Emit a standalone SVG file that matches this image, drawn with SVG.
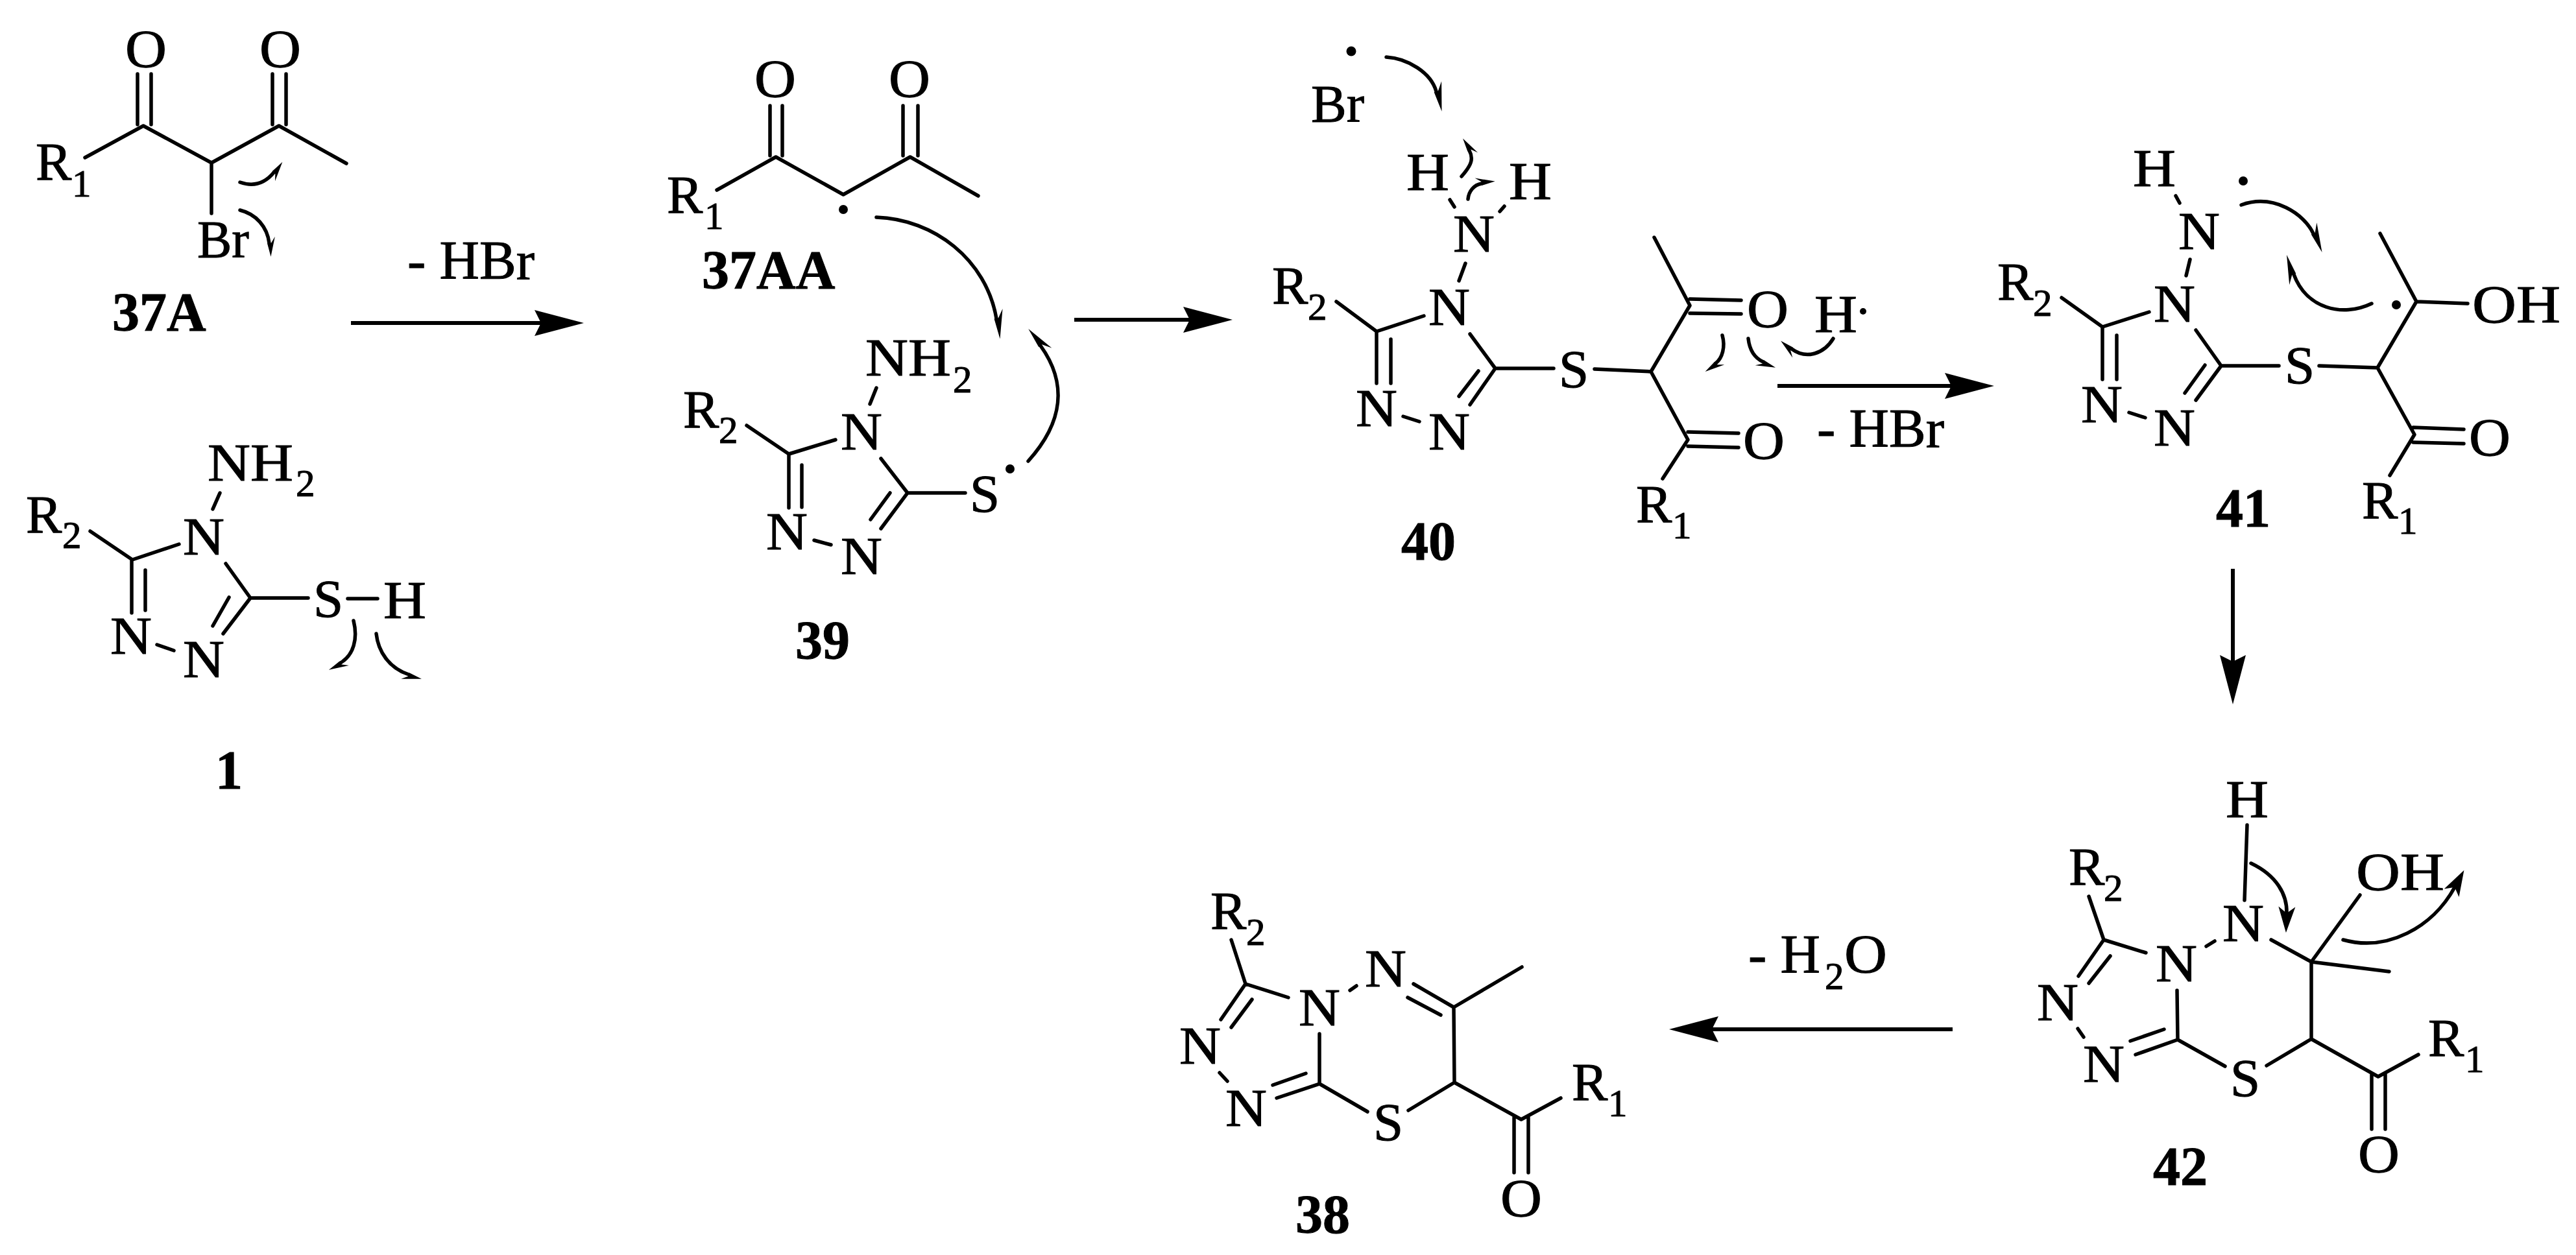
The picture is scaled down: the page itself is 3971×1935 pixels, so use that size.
<svg xmlns="http://www.w3.org/2000/svg" width="3971" height="1935" viewBox="0 0 3971 1935">
<style>
text{font-family:"Liberation Serif","Times New Roman",serif;fill:#000;stroke:#000;stroke-width:1}
.a{font-size:83px}
.s{font-size:59px}
.l{font-size:84px;font-weight:bold}
.b{fill:none;stroke:#000;stroke-width:5.5;stroke-linecap:round;stroke-linejoin:round}
.c{fill:none;stroke:#000;stroke-width:5.5;stroke-linecap:round}
.r{fill:none;stroke:#000;stroke-width:6}
.d{fill:#000}
</style>
<defs>
<marker id="head" markerUnits="userSpaceOnUse" markerWidth="80" markerHeight="44" viewBox="0 -22 80 44" refX="12" refY="0" orient="auto"><path d="M0 -20L76 0L0 20L10 0Z"/></marker>
<marker id="hookL" markerUnits="userSpaceOnUse" markerWidth="50" markerHeight="28" viewBox="-46 -14 50 28" refX="-32" refY="0" orient="auto"><path d="M0 0L-45 -12L-32 -3L-32 3.5Z"/></marker>
<marker id="hookR" markerUnits="userSpaceOnUse" markerWidth="50" markerHeight="28" viewBox="-46 -14 50 28" refX="-32" refY="0" orient="auto"><path d="M0 0L-45 12L-32 3L-32 -3.5Z"/></marker>
<marker id="hookLs" markerUnits="userSpaceOnUse" markerWidth="36" markerHeight="24" viewBox="-32 -12 36 24" refX="-21" refY="0" orient="auto"><path d="M0 0L-30 -10L-21 -3L-21 3Z"/></marker>
<marker id="hookRs" markerUnits="userSpaceOnUse" markerWidth="36" markerHeight="24" viewBox="-32 -12 36 24" refX="-21" refY="0" orient="auto"><path d="M0 0L-30 10L-21 3L-21 -3Z"/></marker>
<marker id="curl" markerUnits="userSpaceOnUse" markerWidth="46" markerHeight="32" viewBox="-42 -16 46 32" refX="-30" refY="0" orient="auto"><path d="M0 0L-40 -13L-30 0L-40 13Z"/></marker>
</defs>
<rect width="3971" height="1935" fill="#fff"/>

<g id="n37A">
<path class="b" d="M131 243L221 194L326 251L430 194L534 252M326 251V329M212 114V192M233 114V192M420 114V192M441 114V192"/>
<text class="a" x="193" y="103" textLength="64" lengthAdjust="spacingAndGlyphs">O</text>
<text class="a" x="400" y="103" textLength="64" lengthAdjust="spacingAndGlyphs">O</text>
<text class="a" x="55" y="277">R<tspan class="s" x="111" y="303">1</tspan></text>
<text class="a" x="304" y="397" textLength="80" lengthAdjust="spacingAndGlyphs">Br</text>
<text class="l" x="173" y="510">37A</text>
</g>

<g id="n1">
<path class="b" d="M139 819L204 863L276 839M203 863V945M224 879V941M339 760L328 785M242 994L268 1003M348 869L386 922L344 977M353 921L328 965M386 922H475M536 923H582"/>
<text class="a" x="320" y="741"><tspan textLength="132" lengthAdjust="spacingAndGlyphs">NH</tspan><tspan class="s" x="456" y="765">2</tspan></text>
<text class="a" x="282" y="855" textLength="64" lengthAdjust="spacingAndGlyphs">N</text>
<text class="a" x="40" y="821">R<tspan class="s" x="96" y="845">2</tspan></text>
<text class="a" x="170" y="1008" textLength="64" lengthAdjust="spacingAndGlyphs">N</text>
<text class="a" x="282" y="1044" textLength="64" lengthAdjust="spacingAndGlyphs">N</text>
<text class="a" x="483" y="951">S</text>
<text class="a" x="591" y="953" textLength="66" lengthAdjust="spacingAndGlyphs">H</text>
<text class="l" x="332" y="1216">1</text>
</g>

<g id="n37AA">
<path class="b" d="M1105 293L1196 242L1300 300L1403 242L1508 302M1187 163V240M1206 163V240M1392 163V240M1415 163V240"/>
<text class="a" x="1163" y="149" textLength="64" lengthAdjust="spacingAndGlyphs">O</text>
<text class="a" x="1370" y="149" textLength="64" lengthAdjust="spacingAndGlyphs">O</text>
<text class="a" x="1028" y="328">R<tspan class="s" x="1086" y="353">1</tspan></text>
<circle class="d" cx="1300" cy="323" r="7"/>
<text class="l" x="1082" y="445">37AA</text>
</g>

<g id="n39">
<path class="b" d="M1151 656L1216 700L1288 678M1216 700V783M1236 717V782M1351 598L1341 623M1255 833L1281 840M1358 707L1399 760L1358 815M1372 760L1342 801M1399 760H1488"/>
<text class="a" x="1334" y="579"><tspan textLength="132" lengthAdjust="spacingAndGlyphs">NH</tspan><tspan class="s" x="1469" y="605">2</tspan></text>
<text class="a" x="1053" y="659">R<tspan class="s" x="1108" y="683">2</tspan></text>
<text class="a" x="1296" y="693" textLength="64" lengthAdjust="spacingAndGlyphs">N</text>
<text class="a" x="1181" y="847" textLength="64" lengthAdjust="spacingAndGlyphs">N</text>
<text class="a" x="1296" y="885" textLength="64" lengthAdjust="spacingAndGlyphs">N</text>
<text class="a" x="1495" y="789">S</text>
<circle class="d" cx="1557" cy="723" r="7"/>
<text class="l" x="1226" y="1016">39</text>
</g>

<g id="nBr">
<text class="a" x="2021" y="188" textLength="82" lengthAdjust="spacingAndGlyphs">Br</text>
<circle class="d" cx="2083" cy="79" r="7.5"/>
</g>

<g id="n40">
<path class="b" d="M2235 308L2242 319M2319 318L2312 326M2259 406L2249 433M2060 465L2122 511L2195 487M2122 511V591M2144 523V591M2163 642L2188 650M2266 515L2305 568L2266 624M2279 572L2249 611M2305 568H2395M2458 569L2545 573L2605 471L2550 366M2605 461L2684 463M2605 483L2684 484M2545 573L2602 678L2563 738M2602 666L2680 668M2602 688L2680 690"/>
<text class="a" x="2168" y="293" textLength="66" lengthAdjust="spacingAndGlyphs">H</text>
<text class="a" x="2326" y="307" textLength="66" lengthAdjust="spacingAndGlyphs">H</text>
<text class="a" x="2240" y="388" textLength="64" lengthAdjust="spacingAndGlyphs">N</text>
<text class="a" x="2202" y="501" textLength="64" lengthAdjust="spacingAndGlyphs">N</text>
<text class="a" x="1961" y="468">R<tspan class="s" x="2016" y="493">2</tspan></text>
<text class="a" x="2090" y="657" textLength="64" lengthAdjust="spacingAndGlyphs">N</text>
<text class="a" x="2202" y="693" textLength="64" lengthAdjust="spacingAndGlyphs">N</text>
<text class="a" x="2403" y="597">S</text>
<text class="a" x="2693" y="504" textLength="64" lengthAdjust="spacingAndGlyphs">O</text>
<text class="a" x="2687" y="707" textLength="64" lengthAdjust="spacingAndGlyphs">O</text>
<text class="a" x="2522" y="805">R<tspan class="s" x="2578" y="830">1</tspan></text>
<text class="l" x="2160" y="863">40</text>
</g>

<g id="nH">
<text class="a" x="2797" y="512" textLength="66" lengthAdjust="spacingAndGlyphs">H</text>
<circle class="d" cx="2872" cy="480" r="5"/>
</g>

<g id="n41">
<path class="b" d="M3354 302L3360 313M3376 400L3370 425M3178 459L3241 504L3313 481M3241 504V585M3263 517V585M3282 636L3307 644M3385 509L3424 564L3385 617M3399 563L3368 606M3424 564H3513M3575 564L3665 567L3725 465L3669 360M3725 465L3804 468M3665 567L3722 670L3684 733M3720 659L3798 662M3720 682L3798 684"/>
<text class="a" x="3288" y="287" textLength="66" lengthAdjust="spacingAndGlyphs">H</text>
<circle class="d" cx="3458" cy="279" r="7"/>
<text class="a" x="3358" y="384" textLength="64" lengthAdjust="spacingAndGlyphs">N</text>
<text class="a" x="3320" y="496" textLength="64" lengthAdjust="spacingAndGlyphs">N</text>
<text class="a" x="3079" y="462">R<tspan class="s" x="3134" y="487">2</tspan></text>
<text class="a" x="3208" y="651" textLength="64" lengthAdjust="spacingAndGlyphs">N</text>
<text class="a" x="3320" y="687" textLength="64" lengthAdjust="spacingAndGlyphs">N</text>
<text class="a" x="3522" y="591">S</text>
<circle class="d" cx="3694" cy="470" r="7"/>
<text class="a" x="3811" y="497" textLength="136" lengthAdjust="spacingAndGlyphs">OH</text>
<text class="a" x="3806" y="702" textLength="64" lengthAdjust="spacingAndGlyphs">O</text>
<text class="a" x="3641" y="799">R<tspan class="s" x="3697" y="823">1</tspan></text>
<text class="l" x="3416" y="812">41</text>
</g>

<g id="n42">
<path class="b" d="M3464 1272L3460 1388M3220 1382L3243 1449L3308 1469M3243 1449L3204 1505M3253 1474L3220 1516M3401 1459L3414 1451M3203 1586L3212 1599M3356 1527L3357 1603L3292 1626M3336 1587L3284 1605M3357 1603L3430 1644M3494 1643L3563 1602V1483L3501 1449M3563 1483L3638 1380M3563 1483L3683 1498M3563 1602L3666 1660L3728 1626M3656 1656V1741M3677 1656V1741"/>
<text class="a" x="3431" y="1260" textLength="66" lengthAdjust="spacingAndGlyphs">H</text>
<text class="a" x="3426" y="1451" textLength="64" lengthAdjust="spacingAndGlyphs">N</text>
<text class="a" x="3632" y="1372" textLength="136" lengthAdjust="spacingAndGlyphs">OH</text>
<text class="a" x="3189" y="1364">R<tspan class="s" x="3243" y="1389">2</tspan></text>
<text class="a" x="3323" y="1513" textLength="64" lengthAdjust="spacingAndGlyphs">N</text>
<text class="a" x="3140" y="1573" textLength="64" lengthAdjust="spacingAndGlyphs">N</text>
<text class="a" x="3211" y="1668" textLength="64" lengthAdjust="spacingAndGlyphs">N</text>
<text class="a" x="3438" y="1690">S</text>
<text class="a" x="3743" y="1628">R<tspan class="s" x="3800" y="1653">1</tspan></text>
<text class="a" x="3635" y="1807" textLength="64" lengthAdjust="spacingAndGlyphs">O</text>
<text class="l" x="3319" y="1827">42</text>
</g>

<g id="n38">
<path class="b" d="M1898 1449L1920 1517L1986 1538M1920 1517L1882 1572M1930 1541L1898 1584M1880 1654L1892 1667M2034 1594V1671L1968 1693M2013 1655L1962 1673M2034 1671L2108 1714M2171 1712L2242 1669L2241 1553L2179 1517M2221 1565L2170 1538M2241 1553L2346 1491M2091 1520L2081 1527M2242 1669L2345 1726L2406 1693M2334 1723V1808M2356 1723V1808"/>
<text class="a" x="1866" y="1432">R<tspan class="s" x="1921" y="1457">2</tspan></text>
<text class="a" x="2002" y="1581" textLength="64" lengthAdjust="spacingAndGlyphs">N</text>
<text class="a" x="1818" y="1640" textLength="64" lengthAdjust="spacingAndGlyphs">N</text>
<text class="a" x="1889" y="1736" textLength="64" lengthAdjust="spacingAndGlyphs">N</text>
<text class="a" x="2117" y="1758">S</text>
<text class="a" x="2104" y="1521" textLength="64" lengthAdjust="spacingAndGlyphs">N</text>
<text class="a" x="2313" y="1875" textLength="64" lengthAdjust="spacingAndGlyphs">O</text>
<text class="a" x="2423" y="1696">R<tspan class="s" x="2479" y="1721">1</tspan></text>
<text class="l" x="1997" y="1901">38</text>
</g>

<g id="labels">
<text class="a" x="628" y="430" style="font-size:85px">- HBr</text>
<text class="a" x="2801" y="689" style="font-size:85px">- HBr</text>
<text class="a" x="2695" y="1500" style="font-size:85px">- H<tspan class="s" x="2813" y="1525">2</tspan><tspan x="2843" y="1500" textLength="66" lengthAdjust="spacingAndGlyphs">O</tspan></text>
</g>

<g id="connectors">
<path class="r" marker-end="url(#head)" d="M541 498H836"/>
<path class="r" marker-end="url(#head)" d="M1656 493H1836"/>
<path class="r" marker-end="url(#head)" d="M2740 595H3010"/>
<path class="r" marker-end="url(#head)" d="M3442 877V1022"/>
<path class="r" marker-end="url(#head)" d="M3010 1587H2637"/>
<path class="c" marker-end="url(#hookRs)" d="M370 281C390 288 408 283 422 266"/>
<path class="c" marker-end="url(#hookLs)" d="M370 324C395 330 412 350 415 375"/>
<path class="c" marker-end="url(#hookLs)" d="M545 957C552 985 545 1010 525 1022"/>
<path class="c" marker-end="url(#hookRs)" d="M580 977C583 1005 600 1030 630 1040"/>
<path class="c" marker-end="url(#hookL)" d="M1351 335C1440 338 1520 400 1536 491"/>
<path class="c" marker-end="url(#hookR)" d="M1585 711C1640 650 1645 590 1604 533"/>
<path class="c" marker-end="url(#hookL)" d="M2137 88C2170 90 2206 112 2214 141"/>
<path class="c" marker-end="url(#hookRs)" d="M2253 272C2268 255 2272 245 2265 232"/>
<path class="c" marker-end="url(#hookLs)" d="M2263 307C2264 295 2272 285 2284 283"/>
<path class="c" marker-end="url(#hookLs)" d="M2655 517C2660 535 2655 552 2645 560"/>
<path class="c" marker-end="url(#hookRs)" d="M2695 522C2697 540 2705 552 2718 558"/>
<path class="c" marker-end="url(#hookLs)" d="M2826 522C2812 545 2785 555 2762 538"/>
<path class="c" marker-end="url(#hookL)" d="M3455 316C3505 298 3552 330 3566 360"/>
<path class="c" marker-end="url(#hookL)" d="M3656 468C3610 490 3555 475 3536 423"/>
<path class="c" marker-end="url(#curl)" d="M3470 1331C3510 1350 3526 1380 3525 1408"/>
<path class="c" marker-end="url(#curl)" d="M3612 1449C3680 1468 3750 1430 3784 1368"/>
</g>
</svg>
